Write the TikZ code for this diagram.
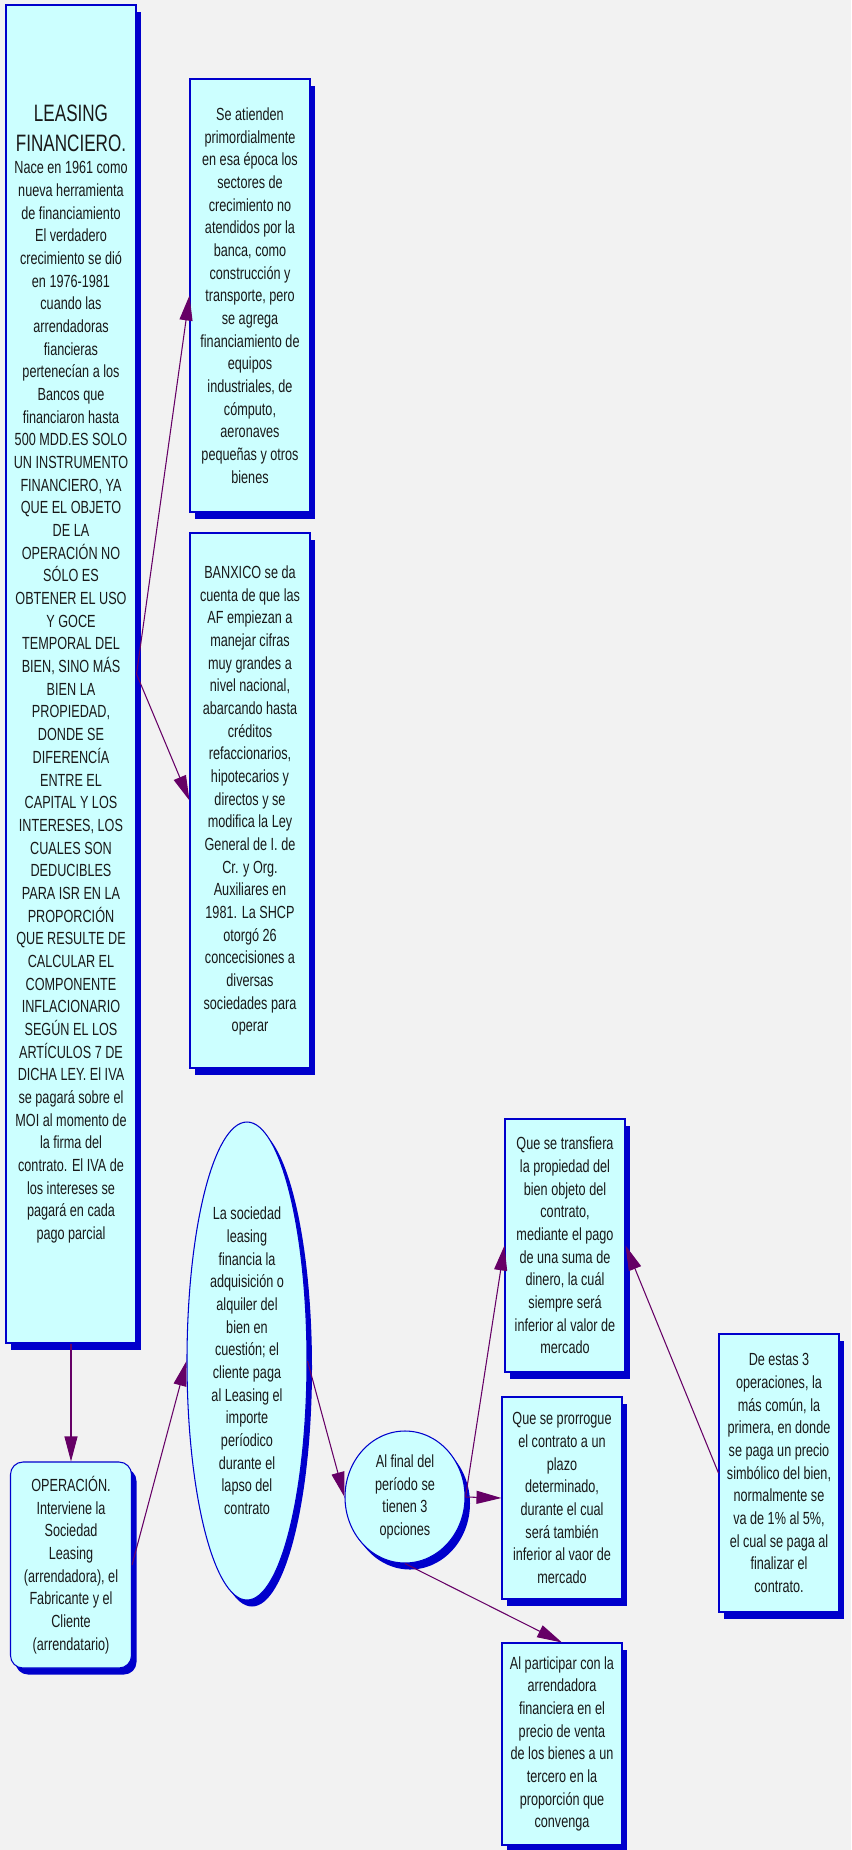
\documentclass[tikz,border=0pt]{standalone}
\usepackage{fontspec}
\setmainfont{Liberation Sans}[FakeStretch=0.72]
\usepackage{tikz}
\usetikzlibrary{shapes.geometric,shadows,arrows.meta}
\definecolor{fondo}{HTML}{F2F2F2}
\definecolor{relleno}{HTML}{CCFFFF}
\definecolor{borde}{HTML}{0000CC}
\definecolor{flecha}{HTML}{660066}
\newcommand{\titulo}{\fontsize{13.5}{17}\selectfont}

\begin{document}
\begin{tikzpicture}[
   font=\fontsize{10}{12.9}\selectfont,
   txt/.style={draw=borde, line width=0.6pt, fill=relleno, text=black!90, align=center, inner sep=0pt,
     drop shadow={shadow xshift=0.1cm, shadow yshift=-0.13cm, fill=borde, opacity=1}},
   caja/.style={txt, rectangle, minimum width=2.4cm},
   liga/.style={draw=flecha, line width=0.6pt, -{Triangle[length=0.5cm,width=0.26cm]}}]
   \fill[fondo] (0,0) rectangle (17.02,-37);
   \useasboundingbox (0,0) rectangle (17.02,-37);
   \node[caja, minimum width=2.6cm, minimum height=26.76cm] (leasing) at (1.42,-13.48)
     {{\titulo LEASING}\\[4pt]{\titulo FINANCIERO.}\\Nace en 1961 como\\nueva herramienta\\de financiamiento\\El verdadero\\crecimiento se dió\\en 1976-1981\\cuando las\\arrendadoras\\fiancieras\\pertenecían a los\\Bancos que\\financiaron hasta\\500 MDD.ES SOLO\\UN INSTRUMENTO\\FINANCIERO, YA\\QUE EL OBJETO\\DE LA\\OPERACIÓN NO\\SÓLO ES\\OBTENER EL USO\\Y GOCE\\TEMPORAL DEL\\BIEN, SINO MÁS\\BIEN LA\\PROPIEDAD,\\DONDE SE\\DIFERENCÍA\\ENTRE EL\\CAPITAL Y LOS\\INTERESES, LOS\\CUALES SON\\DEDUCIBLES\\PARA ISR EN LA\\PROPORCIÓN\\QUE RESULTE DE\\CALCULAR EL\\COMPONENTE\\INFLACIONARIO\\SEGÚN EL LOS\\ARTÍCULOS 7 DE\\DICHA LEY. El IVA\\se pagará sobre el\\MOI al momento de\\la firma del\\contrato. El IVA de\\los intereses se\\pagará en cada\\pago parcial};
   \node[caja, minimum height=8.66cm] (atienden) at (5.0,-5.91)
     {Se atienden\\primordialmente\\en esa época los\\sectores de\\crecimiento no\\atendidos por la\\banca, como\\construcción y\\transporte, pero\\se agrega\\financiamiento de\\equipos\\industriales, de\\cómputo,\\aeronaves\\pequeñas y otros\\bienes};
   \node[caja, minimum height=10.7cm] (banxico) at (5.0,-16.01)
     {BANXICO se da\\cuenta de que las\\AF empiezan a\\manejar cifras\\muy grandes a\\nivel nacional,\\abarcando hasta\\créditos\\refaccionarios,\\hipotecarios y\\directos y se\\modifica la Ley\\General de I. de\\Cr. y Org.\\Auxiliares en\\1981. La SHCP\\otorgó 26\\concecisiones a\\diversas\\sociedades para\\operar};
   \node[caja, rounded corners=0.25cm, minimum width=2.42cm, minimum height=4.12cm] (operacion) at (1.42,-31.3)
     {OPERACIÓN.\\Interviene la\\Sociedad\\Leasing\\(arrendadora), el\\Fabricante y el\\Cliente\\(arrendatario)};
   \node[txt, ellipse, minimum width=2.4cm, minimum height=9.56cm] (sociedad) at (4.94,-27.22)
     {La sociedad\\leasing\\financia la\\adquisición o\\alquiler del\\bien en\\cuestión; el\\cliente paga\\al Leasing el\\importe\\períodico\\durante el\\lapso del\\contrato};
   \node[txt, ellipse, minimum width=2.4cm, minimum height=2.64cm] (opciones) at (8.1,-29.94)
     {Al final del\\período se\\tienen 3\\opciones};
   \node[caja, minimum height=5.06cm] (transfiera) at (11.3,-24.91)
     {Que se transfiera\\la propiedad del\\bien objeto del\\contrato,\\mediante el pago\\de una suma de\\dinero, la cuál\\siempre será\\inferior al valor de\\mercado};
   \node[caja, minimum height=4.04cm] (prorrogue) at (11.24,-29.96)
     {Que se prorrogue\\el contrato a un\\plazo\\determinado,\\durante el cual\\será también\\inferior al vaor de\\mercado};
   \node[caja, minimum height=4.04cm] (participar) at (11.24,-34.88)
     {Al participar con la\\arrendadora\\financiera en el\\precio de venta\\de los bienes a un\\tercero en la\\proporción que\\convenga};
   \node[caja, minimum height=5.56cm] (estas) at (15.58,-29.46)
     {De estas 3\\operaciones, la\\más común, la\\primera, en donde\\se paga un precio\\simbólico del bien,\\normalmente se\\va de 1\% al 5\%,\\el cual se paga al\\finalizar el\\contrato.};
   \draw[liga] (leasing.east) -- (atienden.west);
   \draw[liga] (leasing.east) -- (banxico.west);
   \draw[liga] (leasing.south) -- (operacion.north);
   \draw[liga] (operacion.east) -- (sociedad.west);
   \draw[liga] (sociedad.east) -- (opciones.west);
   \draw[liga] (opciones.east) -- (transfiera.west);
   \draw[liga] (opciones.east) -- (prorrogue.west);
   \draw[liga] (opciones.south) -- (participar.north);
   \draw[liga] (estas.west) -- (transfiera.east);
\end{tikzpicture}
\end{document}
